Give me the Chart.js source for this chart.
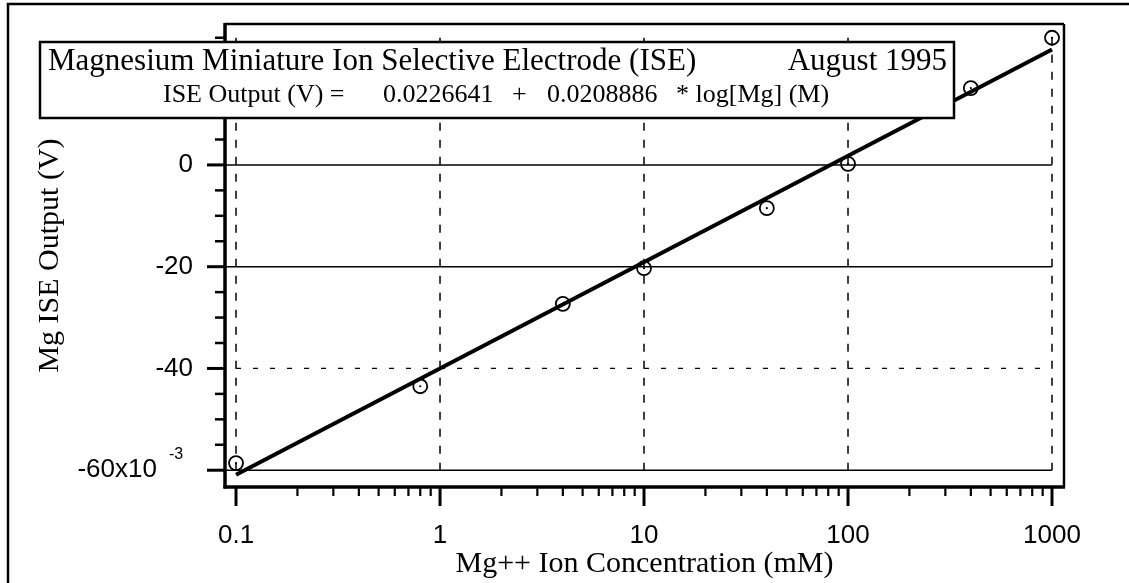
<!DOCTYPE html>
<html>
<head>
<meta charset="utf-8">
<script src="https://cdn.jsdelivr.net/npm/chart.js"></script>
<style>
html, body { margin: 0; padding: 0; background: #fff; }
#wrap { width: 1129px; height: 583px; }
</style>
</head>
<body>
<div id="wrap"><canvas id="ise" width="1129" height="583"></canvas></div>
<script>
// measured points: Mg++ concentration (mM) vs ISE output (mV, i.e. x10^-3 V)
var concentration = [0.1, 0.8, 4, 10, 40, 100, 400, 1000];
var iseOutput = [-58.6, -43.5, -27.3, -20.3, -8.5, 0.2, 15.1, 25.0];

// fitted line end points
var fitConc = [0.1, 1000];
var fitOutput = [-60.9, 22.7];

var xTickValues = [0.1, 1, 10, 100, 1000];
var xTickLabels = ['0.1', '1', '10', '100', '1000'];
var yTickValues = [-60, -40, -20, 0, 20];
var yTickLabels = ['-60x10', '-40', '-20', '0', '20'];

var SERIF = '"Liberation Serif", "Times New Roman", serif';
var SANS = '"Liberation Sans", Arial, sans-serif';

function pts(xs, ys) {
    return xs.map(function (x, i) { return {x: x, y: ys[i]}; });
}

function seg(ctx, x1, y1, x2, y2) {
    ctx.beginPath();
    ctx.moveTo(x1, y1);
    ctx.lineTo(x2, y2);
    ctx.stroke();
}

var decor = {
    id: 'decor',
    beforeDatasetsDraw: function (chart) {
        var ctx = chart.ctx, xs = chart.scales.x, ys = chart.scales.y, a = chart.chartArea;
        var xl = xs.getPixelForValue(xTickValues[0]);
        var xr = xs.getPixelForValue(xTickValues[xTickValues.length - 1]);
        var yb = ys.getPixelForValue(yTickValues[0]);
        var yt = ys.getPixelForValue(25);
        ctx.save();
        ctx.strokeStyle = '#000';
        // vertical dashed grid
        ctx.lineWidth = 1.5;
        ctx.setLineDash([8, 9]);
        xTickValues.forEach(function (v) {
            var px = xs.getPixelForValue(v);
            seg(ctx, px, yt, px, yb);
        });
        // horizontal grid
        [-60, -20, 0].forEach(function (v) {
            var py = ys.getPixelForValue(v);
            ctx.setLineDash([]);
            seg(ctx, a.left, py, xr, py);
        });
        ctx.lineWidth = 1.2;
        ctx.setLineDash([5, 12]);
        var p40 = ys.getPixelForValue(-40);
        seg(ctx, xl, p40, xr, p40);
        ctx.restore();
    },
    afterDraw: function (chart) {
        var ctx = chart.ctx, xs = chart.scales.x, ys = chart.scales.y, a = chart.chartArea;
        ctx.save();
        ctx.strokeStyle = '#000';
        ctx.fillStyle = '#000';
        ctx.setLineDash([]);

        // plot frame
        ctx.lineWidth = 2.5;
        seg(ctx, a.left, a.top, a.right, a.top);
        seg(ctx, a.right, a.top, a.right, a.bottom);
        ctx.lineWidth = 3.5;
        seg(ctx, a.left, a.top - 1, a.left, a.bottom + 1.5);
        seg(ctx, a.left - 1.5, a.bottom, a.right + 1, a.bottom);

        // y ticks
        ctx.lineWidth = 3;
        yTickValues.forEach(function (v) {
            var py = ys.getPixelForValue(v);
            seg(ctx, a.left - 18, py, a.left, py);
        });
        ctx.lineWidth = 2.5;
        for (var v = -55; v <= 25; v += 5) {
            if (v % 20 === 0) continue;
            var py = ys.getPixelForValue(v);
            seg(ctx, a.left - 10, py, a.left, py);
        }
        // x ticks
        ctx.lineWidth = 3;
        xTickValues.forEach(function (v) {
            var px = xs.getPixelForValue(v);
            seg(ctx, px, a.bottom, px, a.bottom + 19);
        });
        ctx.lineWidth = 2.2;
        for (var d = 0; d < xTickValues.length - 1; d++) {
            for (var m = 2; m <= 9; m++) {
                var px = xs.getPixelForValue(xTickValues[d] * m);
                seg(ctx, px, a.bottom, px, a.bottom + 9);
            }
        }

        // exponent of the bottom y label
        ctx.font = '16px ' + SANS;
        ctx.textAlign = 'left';
        ctx.textBaseline = 'middle';
        ctx.fillText('-3', a.left - 56, ys.getPixelForValue(-60) - 16);

        // annotation box
        var bx = 40, by = 42, bw = 914, bh = 76;
        ctx.fillStyle = '#fff';
        ctx.fillRect(bx, by, bw, bh);
        ctx.lineWidth = 2.5;
        ctx.strokeRect(bx, by, bw, bh);
        ctx.fillStyle = '#000';
        ctx.textBaseline = 'alphabetic';
        ctx.font = '31px ' + SERIF;
        ctx.textAlign = 'left';
        ctx.fillText('Magnesium Miniature Ion Selective Electrode (ISE)', 48, 70);
        ctx.textAlign = 'right';
        ctx.fillText('August 1995', 947, 70);
        ctx.font = '26px ' + SERIF;
        ctx.textAlign = 'left';
        ctx.fillText('ISE Output (V) =', 163, 102);
        ctx.fillText('0.0226641', 383, 102);
        ctx.fillText('+', 512, 102);
        ctx.fillText('0.0208886', 547, 102);
        ctx.fillText('* log[Mg] (M)', 676, 102);

        // outer frame
        ctx.lineWidth = 2.5;
        ctx.beginPath();
        ctx.moveTo(8, 600);
        ctx.lineTo(8, 4);
        ctx.lineTo(1140, 4);
        ctx.stroke();
        ctx.restore();
    }
};

var ctx = document.getElementById('ise').getContext('2d');
var iseChart = new Chart(ctx, {
    type: 'scatter',
    data: {
        datasets: [{
            label: 'Fit',
            data: pts(fitConc, fitOutput),
            showLine: true,
            borderColor: '#000',
            borderWidth: 4,
            pointRadius: 0,
            order: 0
        }, {
            label: 'Measured',
            data: pts(concentration, iseOutput),
            pointStyle: 'circle',
            pointRadius: 7,
            borderColor: '#000',
            borderWidth: 1.8,
            backgroundColor: 'rgba(0,0,0,0)',
            order: 1
        }, {
            label: 'centre',
            data: pts(concentration, iseOutput),
            pointRadius: 1.1,
            borderWidth: 0,
            backgroundColor: '#000',
            order: 2
        }]
    },
    options: {
        responsive: false,
        animation: false,
        layout: { padding: { left: 0, top: 24, right: 65, bottom: 0 } },
        plugins: {
            legend: { display: false },
            tooltip: { enabled: false }
        },
        scales: {
            x: {
                type: 'logarithmic',
                min: 0.0883,
                max: 1145,
                bounds: 'data',
                grid: { display: false, drawTicks: false },
                border: { display: false },
                afterBuildTicks: function (s) {
                    s.ticks = xTickValues.map(function (v) { return {value: v}; });
                },
                afterFit: function (s) {
                    s.height = 96;
                    s.paddingLeft = 0;
                    s.paddingRight = 0;
                },
                ticks: {
                    autoSkip: false,
                    maxRotation: 0,
                    padding: 33,
                    color: '#000',
                    font: { family: SANS, size: 26 },
                    callback: function (v, i) { return xTickLabels[i]; }
                },
                title: {
                    display: true,
                    text: 'Mg++ Ion Concentration (mM)',
                    color: '#000',
                    font: { family: SERIF, size: 30 },
                    padding: { top: 0, bottom: 1 }
                }
            },
            y: {
                type: 'linear',
                min: -63.3,
                max: 27.7,
                bounds: 'data',
                grid: { display: false, drawTicks: false },
                border: { display: false },
                afterBuildTicks: function (s) {
                    s.ticks = yTickValues.map(function (v) { return {value: v}; });
                },
                afterFit: function (s) {
                    s.width = 225;
                    s.paddingTop = 0;
                    s.paddingBottom = 0;
                },
                ticks: {
                    padding: 32,
                    color: '#000',
                    font: { family: SANS, size: 26 },
                    callback: function (v, i) {
                        return i === 0 ? yTickLabels[i] + '     ' : yTickLabels[i];
                    }
                },
                title: {
                    display: true,
                    text: 'Mg ISE Output (V)',
                    color: '#000',
                    font: { family: SERIF, size: 30 },
                    padding: { top: 32, bottom: 0 }
                }
            }
        }
    },
    plugins: [decor]
});
</script>
</body>
</html>
